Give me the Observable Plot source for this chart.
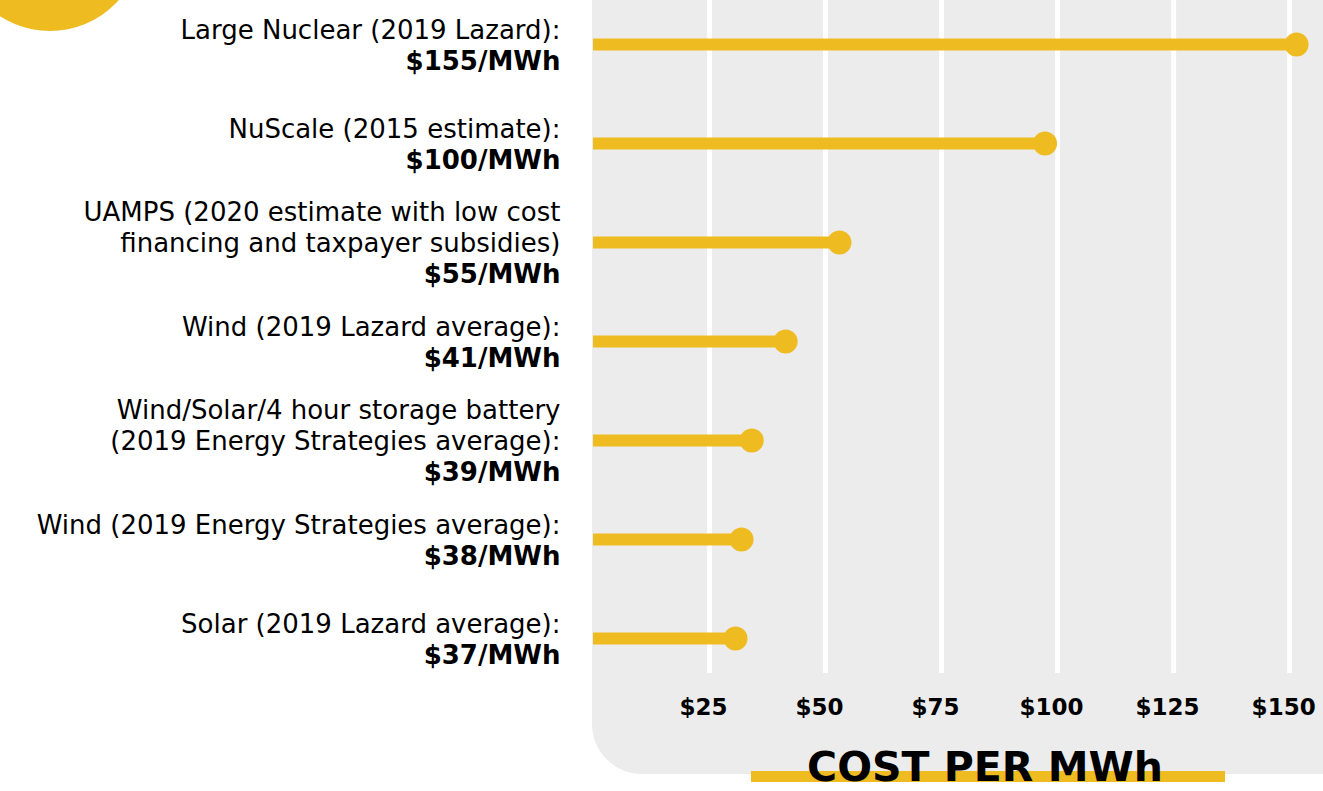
<!DOCTYPE html>
<html><head><meta charset="utf-8">
<script src="https://cdn.jsdelivr.net/npm/d3@7"></script>
<script src="https://cdn.jsdelivr.net/npm/@observablehq/plot@0.6"></script>
<style>
html,body{margin:0;padding:0;background:#fff;overflow:hidden}
#wrap{position:relative;width:1323px;height:791px;overflow:hidden;font-family:"DejaVu Sans",sans-serif;color:#000}
#panel{position:absolute;left:592px;top:0;width:731px;height:774px;background:#ececec;border-bottom-left-radius:50px}
#blob{position:absolute;left:-42px;top:-153px;width:184px;height:184px;border-radius:50%;background:#eebb20}
#chart{position:absolute;left:0;top:0}
#bar{position:absolute;left:751px;top:771px;width:474px;height:11px;background:#eebb20}
#title{position:absolute;left:735px;top:752px;width:500px;text-align:center;font-size:41px;line-height:30px;font-weight:700;white-space:nowrap}
</style></head>
<body>
<div id="wrap">
  <div id="panel"></div>
  <div id="blob"></div>
  <div id="chart"></div>
  <div id="bar"></div>
  <div id="title">COST PER MWh</div>
</div>
<script>
const descriptions = [
  "Large Nuclear (2019 Lazard):",
  "NuScale (2015 estimate):",
  "UAMPS (2020 estimate with low cost\nfinancing and taxpayer subsidies)",
  "Wind (2019 Lazard average):",
  "Wind/Solar/4 hour storage battery\n(2019 Energy Strategies average):",
  "Wind (2019 Energy Strategies average):",
  "Solar (2019 Lazard average):"
];
const valueLabels = ["$155/MWh", "$100/MWh", "$55/MWh", "$41/MWh", "$39/MWh", "$38/MWh", "$37/MWh"];
const plottedValues = [151.5, 97.3, 53, 41.4, 34.1, 31.9, 30.6];
const tickValues = [25, 50, 75, 100, 125, 150];

const yellow = "#eebb20";
const data = descriptions.map((d, i) => ({key: d, desc: d, label: valueLabels[i], value: plottedValues[i], lines: d.split("\n").length}));

const chart = Plot.plot({
  width: 1323,
  height: 791,
  marginLeft: 593,
  marginRight: 0,
  marginTop: 0,
  marginBottom: 118,
  style: {background: "transparent", fontFamily: "'DejaVu Sans', sans-serif", color: "#000"},
  x: {domain: [0, 157.3]},
  y: {type: "point", domain: descriptions, padding: 0, insetTop: 43, insetBottom: 35, axis: null},
  marks: [
    Plot.gridX(tickValues, {stroke: "#fff", strokeOpacity: 1, strokeWidth: 5}),
    Plot.axisX(tickValues, {tickSize: 0, tickPadding: 25, dx: -6, tickFormat: d => "$" + d, fontSize: 23, fontWeight: 700, label: null, fill: "#000"}),
    Plot.ruleY(data, {y: "key", x1: 0, x2: "value", stroke: yellow, strokeWidth: 12}),
    Plot.dot(data, {x: "value", y: "key", r: 12, fill: yellow}),
    Plot.text(data, {x: 0, y: "key", text: d => d.desc + "\n", textAnchor: "end", dx: -33, lineAnchor: "middle", fontSize: 26, lineHeight: 1.19, fill: "#000"}),
    Plot.text(data, {x: 0, y: "key", text: d => "\n".repeat(d.lines) + d.label, textAnchor: "end", dx: -33, lineAnchor: "middle", fontSize: 26, lineHeight: 1.19, fontWeight: 700, fill: "#000"})
  ]
});
document.getElementById("chart").appendChild(chart);
</script>
</body></html>
